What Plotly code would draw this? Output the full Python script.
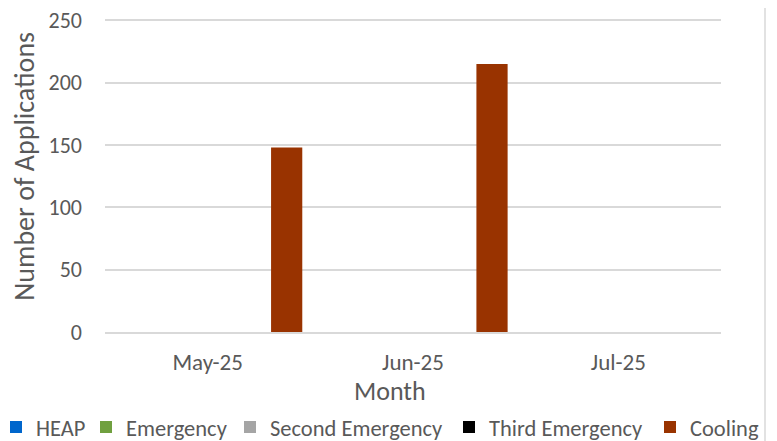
import plotly.graph_objects as go

months = ["May-25", "Jun-25", "Jul-25"]
series_names = ["HEAP", "Emergency", "Second Emergency", "Third Emergency", "Cooling"]
heap = [0, 0, 0]
emergency = [0, 0, 0]
second_emergency = [0, 0, 0]
third_emergency = [0, 0, 0]
cooling = [148, 215, 0]
y_ticks = [0, 50, 100, 150, 200, 250]

colors = ["#0066CC", "#70A03F", "#A5A5A5", "#000000", "#993300"]
values = [heap, emergency, second_emergency, third_emergency, cooling]

FONT = "Carlito, Lato, sans-serif"
TXT = "#595959"

# the page body has an 8px margin, so the figure sits 8px in from the corner
OFF = 8
FIG_W, FIG_H = 777 - OFF, 441 - OFF

# y range a bit above 250 so plotly keeps the top grid line and label
Y_MAX = 252
PX_PER_UNIT = (331.7 - 20.3) / 250

# plot area in reference pixels, moved into figure pixels
L, R = 105 - OFF, 721 - OFF
B = 331.7 - OFF
T = 331.7 - Y_MAX * PX_PER_UNIT - OFF
W, H = R - L, B - T


def px_x(p):
    return (p - OFF - L) / W


def px_y(p):
    return (B - (p - OFF)) / H


# where each legend label starts in the reference
legend_text_x = [34, 124, 268, 487, 688]

fig = go.Figure()
for i, (name, vals, col) in enumerate(zip(series_names, values, colors)):
    fig.add_trace(
        go.Bar(
            x=months,
            y=vals,
            name=name,
            marker=dict(color=col, line=dict(width=0)),
            legend="legend" if i == 0 else f"legend{i + 1}",
            showlegend=True,
        )
    )

legends = {}
for i, tx in enumerate(legend_text_x):
    key = "legend" if i == 0 else f"legend{i + 1}"
    legends[key] = dict(
        x=px_x(tx - 38),
        xanchor="left",
        y=px_y(427),
        yanchor="middle",
        orientation="h",
        bgcolor="rgba(0,0,0,0)",
        font=dict(family=FONT, size=22.5, color=TXT),
        itemwidth=30,
    )

fig.update_layout(
    width=FIG_W,
    height=FIG_H,
    showlegend=True,
    paper_bgcolor="white",
    plot_bgcolor="white",
    margin=dict(l=L, r=FIG_W - R, t=T, b=FIG_H - B, autoexpand=False),
    barmode="group",
    bargap=0.038,
    bargroupgap=0.21,
    font=dict(family=FONT, color=TXT),
    xaxis=dict(
        showgrid=False,
        showline=True,
        linecolor="#D9D9D9",
        linewidth=1.5,
        ticks="",
        tickfont=dict(size=23, color=TXT),
        ticklabelstandoff=9,
    ),
    yaxis=dict(
        range=[0, Y_MAX],
        tickvals=y_ticks,
        showgrid=True,
        gridcolor="#D9D9D9",
        gridwidth=1.5,
        zeroline=False,
        showline=False,
        ticks="",
        tickfont=dict(size=22, color=TXT),
        ticklabelstandoff=22,
        ticklabeloverflow="allow",
    ),
    annotations=[
        dict(
            text="Number of Applications",
            xref="paper", yref="paper",
            x=px_x(24.5), y=px_y(166),
            xanchor="center", yanchor="middle",
            textangle=-90, showarrow=False,
            font=dict(family=FONT, size=28, color=TXT),
        ),
        dict(
            text="Month",
            xref="paper", yref="paper",
            x=px_x(390), y=px_y(391),
            xanchor="center", yanchor="middle",
            showarrow=False,
            font=dict(family=FONT, size=26, color=TXT),
        ),
    ],
    shapes=[
        dict(
            type="line", xref="paper", yref="paper",
            x0=px_x(765), x1=px_x(765), y0=px_y(441), y1=px_y(0),
            line=dict(color="#D9D9D9", width=1.5),
        )
    ],
    **legends,
)

fig.write_html("out.html")
